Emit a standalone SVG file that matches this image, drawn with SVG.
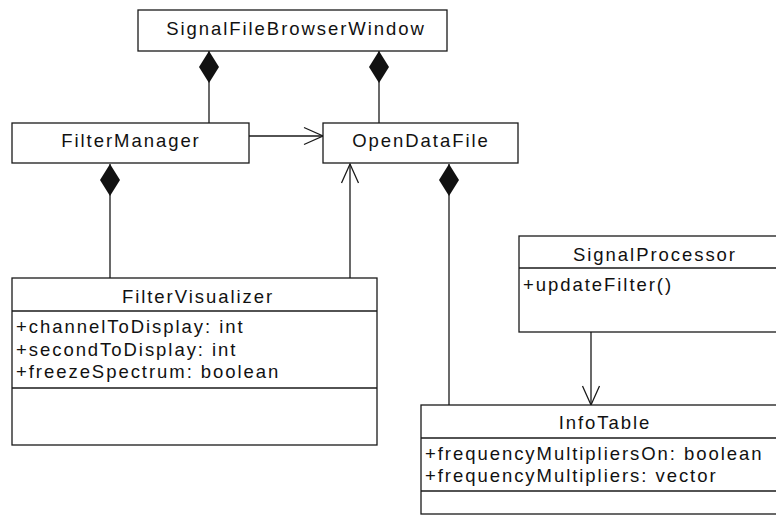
<svg xmlns="http://www.w3.org/2000/svg" width="776" height="516" viewBox="0 0 776 516">
  <style>
    .box { fill: #ffffff; stroke: #1a1a1a; stroke-width: 1.3; }
    .div { stroke: #1a1a1a; stroke-width: 1.3; }
    .edge { fill: none; stroke: #1a1a1a; stroke-width: 1.3; }
    text { font-family: "Liberation Sans", Arial, sans-serif; font-size: 18.5px; letter-spacing: 1.95px; fill: #111111; }
    .title { text-anchor: middle; }
  </style>
  <defs>
    <!-- filled diamond: composition, tip sits on the whole -->
    <marker id="diamond" viewBox="0 -10 32 20" refX="32" refY="0" markerWidth="32" markerHeight="20" markerUnits="userSpaceOnUse" orient="auto">
      <path d="M0,0 L16,-10 L32,0 L16,10 Z" fill="#111111" stroke="none"/>
    </marker>
    <!-- open arrow head: association / dependency -->
    <marker id="open" viewBox="-1 -10 22 20" refX="19" refY="0" markerWidth="22" markerHeight="20" markerUnits="userSpaceOnUse" orient="auto">
      <path d="M0,-8.5 L19,0 L0,8.5" fill="none" stroke="#1a1a1a" stroke-width="1.3"/>
    </marker>
  </defs>

  <g id="connectors">
    <path class="edge" d="M209,123 L209,51" marker-end="url(#diamond)"/>
    <path class="edge" d="M379,123 L379,51" marker-end="url(#diamond)"/>
    <path class="edge" d="M249,136 L323,136" marker-end="url(#open)"/>
    <path class="edge" d="M110,278 L110,164" marker-end="url(#diamond)"/>
    <path class="edge" d="M350,278 L350,164" marker-end="url(#open)"/>
    <path class="edge" d="M449,405 L449,164" marker-end="url(#diamond)"/>
    <path class="edge" d="M591,332 L591,405" marker-end="url(#open)"/>
  </g>

  <g id="SignalFileBrowserWindow">
    <rect class="box" x="138" y="10" width="309" height="41"/>
    <text class="title" x="296" y="35">SignalFileBrowserWindow</text>
  </g>

  <g id="FilterManager">
    <rect class="box" x="12" y="123" width="237" height="40"/>
    <text class="title" x="131" y="147">FilterManager</text>
  </g>

  <g id="OpenDataFile">
    <rect class="box" x="323" y="123" width="195" height="40"/>
    <text class="title" x="421" y="147">OpenDataFile</text>
  </g>

  <g id="FilterVisualizer">
    <rect class="box" x="12" y="278" width="365" height="167"/>
    <line class="div" x1="12" y1="311" x2="377" y2="311"/>
    <line class="div" x1="12" y1="388" x2="377" y2="388"/>
    <text class="title" x="198" y="303">FilterVisualizer</text>
    <text x="16" y="333">+channelToDisplay: int</text>
    <text x="16" y="355.5">+secondToDisplay: int</text>
    <text x="16" y="378">+freezeSpectrum: boolean</text>
  </g>

  <g id="SignalProcessor">
    <rect class="box" x="519" y="236" width="268" height="96"/>
    <line class="div" x1="519" y1="268" x2="787" y2="268"/>
    <text class="title" x="655" y="261">SignalProcessor</text>
    <text x="523" y="291">+updateFilter()</text>
  </g>

  <g id="InfoTable">
    <rect class="box" x="421" y="405" width="366" height="109"/>
    <line class="div" x1="421" y1="438" x2="787" y2="438"/>
    <line class="div" x1="421" y1="491" x2="787" y2="491"/>
    <text class="title" x="605" y="429">InfoTable</text>
    <text x="425" y="459.5">+frequencyMultipliersOn: boolean</text>
    <text x="425" y="482">+frequencyMultipliers: vector</text>
  </g>
</svg>
